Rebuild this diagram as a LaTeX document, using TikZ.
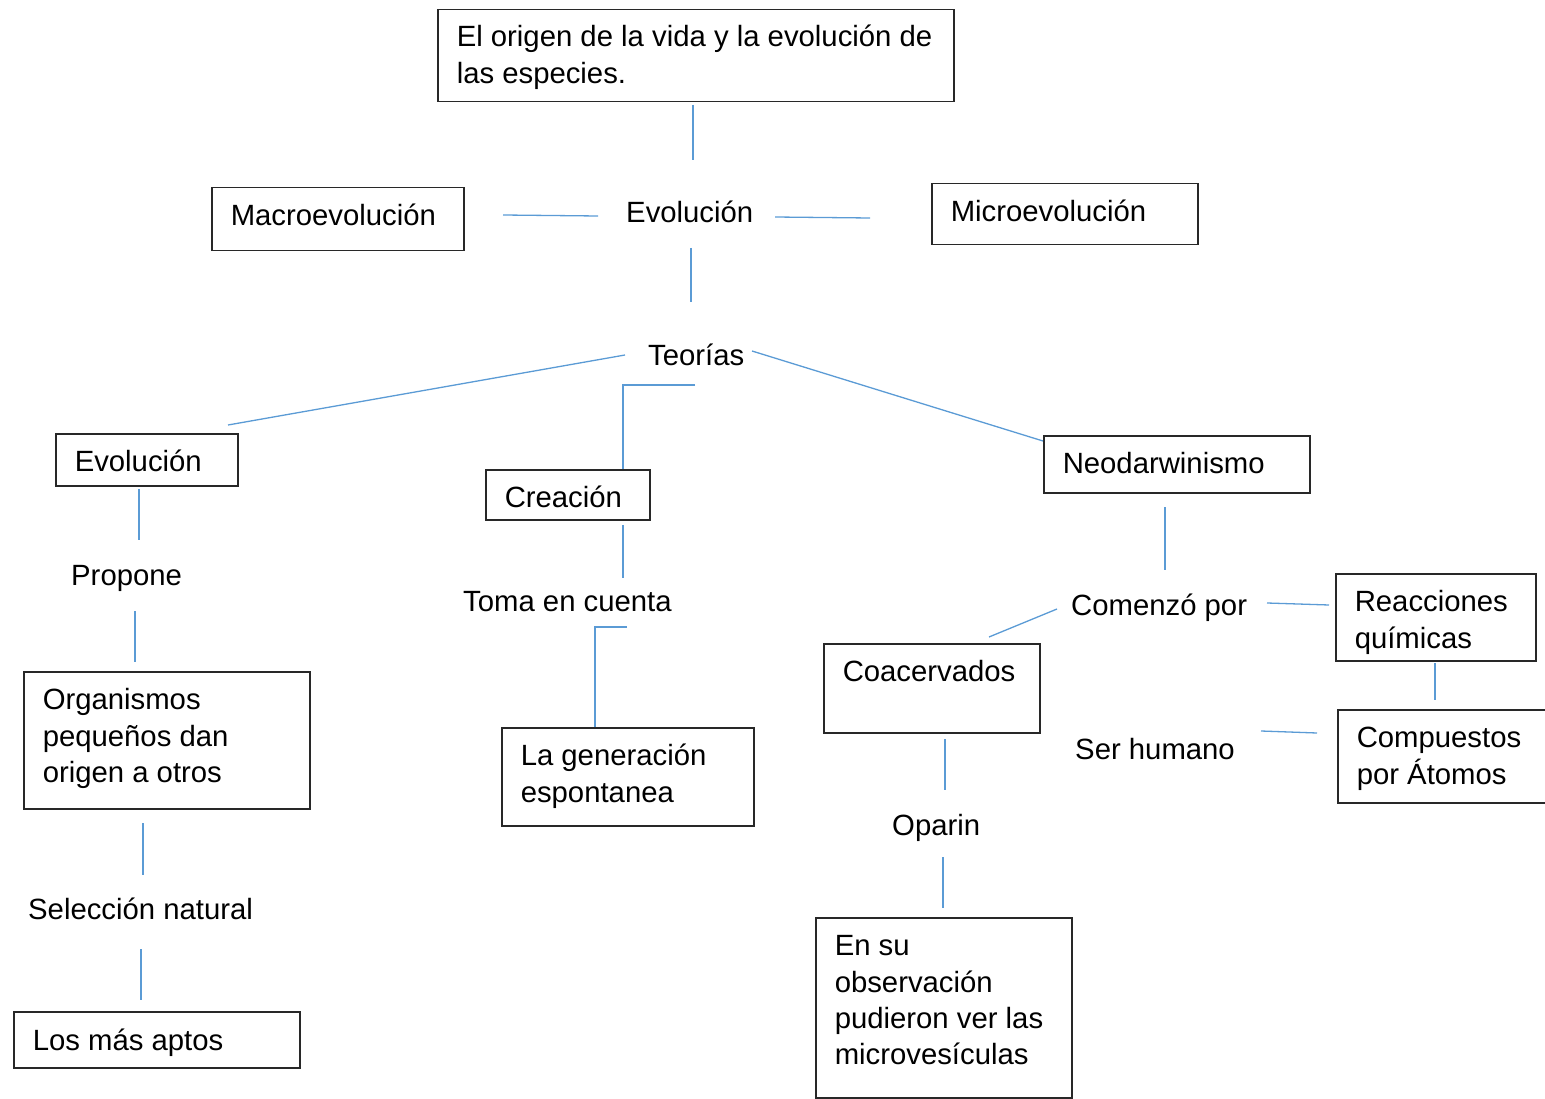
\documentclass[tikz,border=0pt]{standalone}
\usepackage{fontspec}
\setmainfont{Liberation Sans}
\definecolor{connc}{RGB}{91,155,213}
\definecolor{edgec}{RGB}{40,40,40}
\newcommand\boxtext[4]{\vbox to #2{\hsize=#1\relax\baselineskip=36.3pt\relax\lineskiplimit=-100pt\relax\lineskip=0pt\relax\vskip\dimexpr #3-29pt\relax #4\vfil}}
\newcommand\bline[1]{\hbox to \hsize{\hskip19pt\rule{0pt}{28pt}#1\hfil}}
\tikzset{
  box/.style={draw=edgec, line width=1.5pt, inner sep=0pt, anchor=north west, font=\fontsize{29.3}{36.3}\selectfont},
  lbl/.style={inner sep=0pt, anchor=base west, font=\fontsize{29.3}{36.3}\selectfont},
  link/.style={draw=connc, line width=1.3pt}
}
\begin{document}
\begin{tikzpicture}[x=1pt,y=-1pt]
\useasboundingbox (0,0) rectangle (1545,1099);
% boxes
\node[box] (title) at (437,9) {\boxtext{516pt}{92pt}{38pt}{\bline{El origen de la vida y la evolución de}\bline{las especies.}}};
\node[box] (macro) at (211,187) {\boxtext{252pt}{63pt}{39pt}{\bline{Macroevolución}}};
\node[box] (micro) at (931,183) {\boxtext{266pt}{61pt}{39pt}{\bline{Microevolución}}};
\node[box] (evolL) at (55,433) {\boxtext{182pt}{52pt}{39pt}{\bline{Evolución}}};
\node[box] (creacion) at (485,469) {\boxtext{164pt}{50pt}{39pt}{\bline{Creación}}};
\node[box] (neo) at (1043,435) {\boxtext{266pt}{57pt}{39pt}{\bline{Neodarwinismo}}};
\node[box] (reacc) at (1335,573) {\boxtext{200pt}{87pt}{39pt}{\bline{Reacciones}\bline{químicas}}};
\node[box] (coac) at (823,643) {\boxtext{216pt}{89pt}{39pt}{\bline{Coacervados}}};
\node[box] (compu) at (1337,709) {\boxtext{230pt}{93pt}{39pt}{\bline{Compuestos}\bline{por Átomos}}};
\node[box] (organ) at (23,671) {\boxtext{286pt}{137pt}{39pt}{\bline{Organismos}\bline{pequeños dan}\bline{origen a otros}}};
\node[box] (lagen) at (501,727) {\boxtext{252pt}{98pt}{39pt}{\bline{La generación}\bline{espontanea}}};
\node[box] (ensu) at (815,917) {\boxtext{256pt}{180pt}{39pt}{\bline{En su}\bline{observación}\bline{pudieron ver las}\bline{microvesículas}}};
\node[box] (aptos) at (13,1011) {\boxtext{286pt}{56pt}{40pt}{\bline{Los más aptos}}};
% free labels
\node[lbl] (evol) at (626,223) {Evolución};
\node[lbl] (teorias) at (648,365) {Teorías};
\node[lbl] (propone) at (71,585) {Propone};
\node[lbl] (toma) at (463,611) {Toma en cuenta};
\node[lbl] (comenzo) at (1071,615) {Comenzó por};
\node[lbl] (ser) at (1075,759) {Ser humano};
\node[lbl] (oparin) at (892,835) {Oparin};
\node[lbl] (seleccion) at (28,919) {Selección natural};
% connector ends
\coordinate (a1) at (693,105); \coordinate (a2) at (693,160);
\coordinate (b1) at (503,215); \coordinate (b2) at (598,216);
\coordinate (c1) at (775,217); \coordinate (c2) at (870,218);
\coordinate (d1) at (691,248); \coordinate (d2) at (691,302);
\coordinate (e1) at (625,355); \coordinate (e2) at (228,425);
\coordinate (f1) at (752,351); \coordinate (f2) at (1043,441);
\coordinate (g1) at (695,385); \coordinate (g2) at (623,385);
\coordinate (h1) at (139,489); \coordinate (h2) at (139,540);
\coordinate (i1) at (135,611); \coordinate (i2) at (135,662);
\coordinate (j1) at (143,823); \coordinate (j2) at (143,875);
\coordinate (k1) at (141,949); \coordinate (k2) at (141,1000);
\coordinate (l1) at (623,525); \coordinate (l2) at (623,578);
\coordinate (m1) at (627,627); \coordinate (m2) at (595,627);
\coordinate (n1) at (1165,507); \coordinate (n2) at (1165,570);
\coordinate (o1) at (1057,609); \coordinate (o2) at (989,637);
\coordinate (p1) at (1267,603); \coordinate (p2) at (1329,605);
\coordinate (q1) at (1435,663); \coordinate (q2) at (1435,700);
\coordinate (r1) at (1261,731); \coordinate (r2) at (1317,733);
\coordinate (s1) at (945,739); \coordinate (s2) at (945,790);
\coordinate (t1) at (943,857); \coordinate (t2) at (943,908);
% connectors
\draw[link] (a1) -- (a2);
\draw[link] (b1) -- (b2);
\draw[link] (c1) -- (c2);
\draw[link] (d1) -- (d2);
\draw[link] (e1) -- (e2);
\draw[link] (f1) -- (f2);
\draw[link] (g1) -- (g2) |- (creacion.north -| g2);
\draw[link] (h1) -- (h2);
\draw[link] (i1) -- (i2);
\draw[link] (j1) -- (j2);
\draw[link] (k1) -- (k2);
\draw[link] (l1) -- (l2);
\draw[link] (m1) -- (m2) |- (lagen.north -| m2);
\draw[link] (n1) -- (n2);
\draw[link] (o1) -- (o2);
\draw[link] (p1) -- (p2);
\draw[link] (q1) -- (q2);
\draw[link] (r1) -- (r2);
\draw[link] (s1) -- (s2);
\draw[link] (t1) -- (t2);
\end{tikzpicture}
\end{document}
